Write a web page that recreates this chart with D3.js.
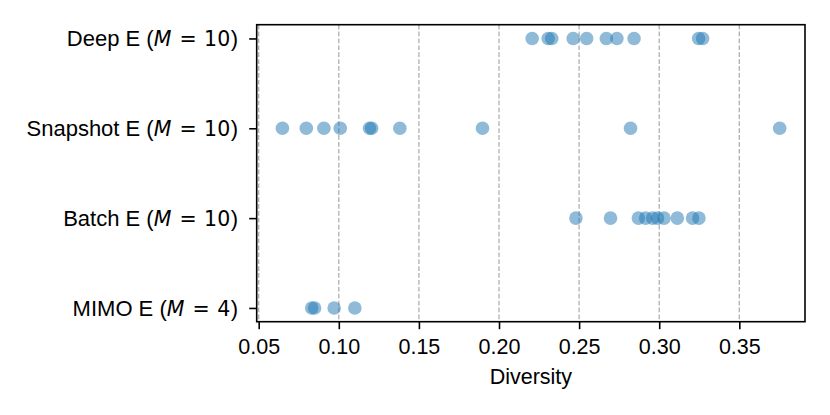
<!DOCTYPE html>
<html><head><meta charset="utf-8">
<script src="https://cdn.jsdelivr.net/npm/d3@7"></script>
<style>body{margin:0;background:#fff}svg{display:block}</style>
</head><body>
<script>
const categories = ["Deep E", "Snapshot E", "Batch E", "MIMO E"];
const ensembleSizes = [10, 10, 10, 4];
const deepE = [0.2207, 0.2307, 0.2329, 0.2463, 0.2547, 0.2670, 0.2736, 0.2843, 0.3246, 0.3271];
const snapshotE = [0.0648, 0.0797, 0.0907, 0.1009, 0.1192, 0.1205, 0.1381, 0.1897, 0.2821, 0.3752];
const batchE = [0.2480, 0.2696, 0.2870, 0.2915, 0.2959, 0.2990, 0.3030, 0.3113, 0.3208, 0.3248];
const mimoE = [0.0831, 0.0849, 0.0971, 0.1100];
const xTicks = [0.05, 0.10, 0.15, 0.20, 0.25, 0.30, 0.35];
const xLabel = "Diversity";

const series = [deepE, snapshotE, batchE, mimoE];
const W = 830, H = 415;
const m = {left: 256.7, right: 25, top: 24.7, bottom: 93.3};
const iw = W - m.left - m.right, ih = H - m.top - m.bottom;
const font = "'Liberation Sans', Arial, sans-serif";
const mathFont = "'DejaVu Sans', sans-serif";
const fs = 21.5;

const svg = d3.select("body").append("svg").attr("width", W).attr("height", H);
const g = svg.append("g").attr("transform", `translate(${m.left},${m.top})`);

const x = d3.scaleLinear().domain([0.04875, 0.3910]).range([0, iw]);
const y = d3.scalePoint().domain(categories).range([0, ih]).padding(0.153);

// grid
g.append("g").selectAll("line").data(xTicks).join("line")
  .attr("x1", d => x(d)).attr("x2", d => x(d)).attr("y1", 0).attr("y2", ih)
  .attr("stroke", "#b0b0b0").attr("stroke-width", 1.3).attr("stroke-dasharray", "4.7,2.2");

// points
categories.forEach((c, i) => {
  g.append("g").selectAll("circle").data(series[i]).join("circle")
    .attr("cx", d => x(d)).attr("cy", y(c)).attr("r", 6.8)
    .attr("fill", "#1f77b4").attr("fill-opacity", 0.5);
});

// frame
g.append("rect").attr("width", iw).attr("height", ih).attr("fill", "none")
  .attr("stroke", "#000").attr("stroke-width", 1.6);

// x axis
const xa = g.append("g").attr("transform", `translate(0,${ih})`)
  .call(d3.axisBottom(x).tickValues(xTicks).tickFormat(d3.format(".2f")).tickSize(7.5).tickPadding(9.8));
xa.select(".domain").remove();
xa.selectAll("line").attr("stroke", "#000").attr("stroke-width", 1.6);
xa.selectAll("text").attr("font-family", font).attr("font-size", fs).attr("fill", "#000");

// y axis
const ya = g.append("g").call(d3.axisLeft(y).tickSize(7.5).tickFormat(""));
ya.select(".domain").remove();
ya.selectAll("line").attr("stroke", "#000").attr("stroke-width", 1.6);

const lab = g.append("g");
categories.forEach((c, i) => {
  const t = lab.append("text").attr("x", -18.7).attr("y", y(c)).attr("dy", "0.36em")
    .attr("text-anchor", "end").attr("font-family", font).attr("font-size", 22).attr("fill", "#000")
    .attr("xml:space", "preserve").style("white-space", "pre");
  t.append("tspan").text(c + " (");
  t.append("tspan").attr("font-style", "italic").attr("font-family", mathFont).attr("font-size", 20.5).text("M");
  t.append("tspan").attr("font-family", mathFont).attr("font-size", 20.5).attr("dx", 1.5).text(" = ");
  t.append("tspan").attr("font-family", mathFont).attr("font-size", 20.5).attr("dx", 1).text(ensembleSizes[i]);
  t.append("tspan").attr("dx", 0.5).text(")");
});

svg.append("text").attr("x", m.left + iw / 2).attr("y", 384.3).attr("text-anchor", "middle")
  .attr("font-family", font).attr("font-size", fs).attr("fill", "#000").text(xLabel);
</script>
</body></html>
